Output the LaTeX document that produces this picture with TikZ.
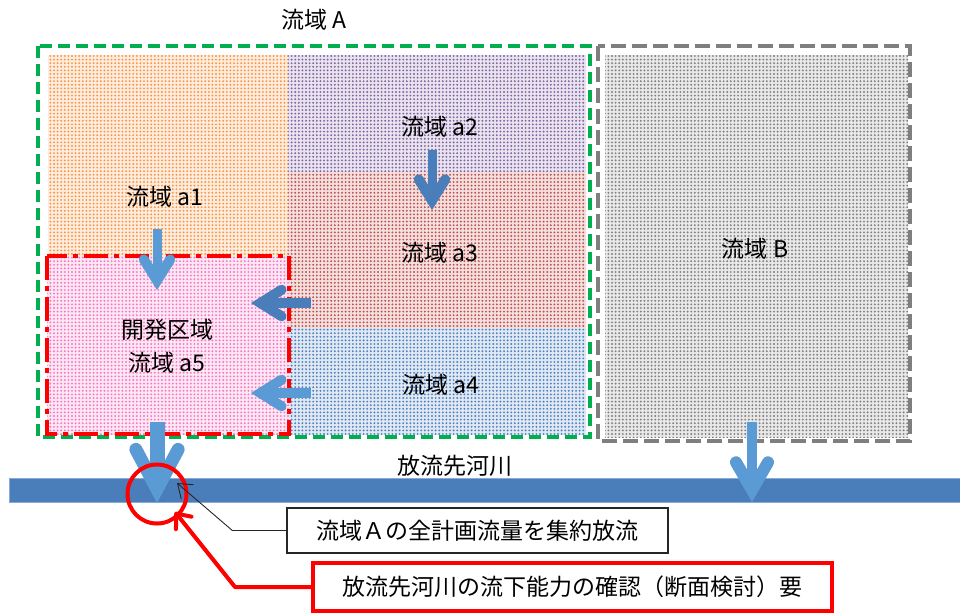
\documentclass[tikz,border=0pt]{standalone}
\usepackage{fontspec}
\setmainfont{Noto Sans CJK JP}
\usetikzlibrary{calc,patterns.meta,arrows.meta}
\definecolor{orgD}{RGB}{247,150,70}
\definecolor{purD}{RGB}{128,100,162}
\definecolor{redD}{RGB}{192,80,77}
\definecolor{bluD}{RGB}{79,129,189}
\definecolor{gryD}{RGB}{128,128,128}
\definecolor{pnkD}{RGB}{245,120,195}
\definecolor{grnL}{RGB}{0,176,80}
\definecolor{grayL}{RGB}{127,127,127}
\definecolor{arrD}{RGB}{74,126,187}
\definecolor{arrL}{RGB}{91,155,213}
\definecolor{river}{RGB}{74,126,187}
\newcommand\flowarrow[7]{%
  \coordinate (fa-p) at ($(#2)!{(#5)/2/sin(#7)}!(#1)$);
  \coordinate (fa-l) at ($(fa-p)!#6!#7:(#1)$);
  \coordinate (fa-r) at ($(fa-p)!#6!-#7:(#1)$);
  \draw[#3, line width=#4] (#1) -- (fa-p);
  \draw[#3, line width=#5, line cap=round, line join=miter] (fa-l) -- (fa-p) -- (fa-r);
}
\begin{document}
\begin{tikzpicture}[x=1pt,y=-1pt,
  font=\fontsize{23pt}{27pt}\selectfont,
  region/.style={preaction={fill=#1!18}, pattern={Dots[distance=3.6pt,radius=1.05pt]}, pattern color=#1},
  grnbox/.style={draw=grnL, line width=4.5pt, dash pattern=on 12pt off 6pt},
  grybox/.style={draw=grayL, line width=4.5pt, dash pattern=on 15pt off 6pt},
  redbox/.style={draw=red, line width=4pt, dash pattern=on 24pt off 6pt on 5pt off 6pt},
  lbl/.style={inner sep=1pt},
  note/.style={draw=black!85, line width=1.3pt, minimum width=381pt, minimum height=45pt, inner sep=0pt},
  rnote/.style={draw=red, line width=4pt, minimum width=519pt, minimum height=48pt, inner sep=0pt}
]
\useasboundingbox (0,0) rectangle (960,614);
% regions
\path[region=orgD] (48,55) rectangle (288,435);
\path[region=purD] (288,55) rectangle (586,172);
\path[region=redD] (288,172) rectangle (586,328);
\path[region=bluD] (288,328) rectangle (586,435);
\path[region=gryD] (605,55) rectangle (908,437);
\path[region=pnkD] (47,256) rectangle (289,434);
% borders
\draw[grnbox] (38,46) rectangle (590,437);
\draw[grybox] (598,46) rectangle (910,441);
\draw[redbox] (47,256) rectangle (289,434);
% labels
\node[lbl] (tA) at (314,20) {流域 A};
\node[lbl] (t1) at (165,197) {流域 a1};
\node[lbl] (t2) at (440,127) {流域 a2};
\node[lbl] (t3) at (440,253) {流域 a3};
\node[lbl] (t4) at (441,385) {流域 a4};
\node[lbl] (tB) at (755,249) {流域 B};
\node[lbl] (t5a) at (167,330) {開発区域};
\node[lbl] (t5b) at (167,363) {流域 a5};
% river
\path[fill=river, draw=river!65!white, line width=1pt] (9,478) rectangle (962,502);
\node[lbl] (rv) at (455,466) {放流先河川};
% flow arrows
\coordinate (s1) at (157,229); \coordinate (e1) at (157,290);
\coordinate (s2) at (432,150); \coordinate (e2) at (432,210);
\coordinate (s3) at (311,303); \coordinate (e3) at (251,303);
\coordinate (s4) at (311,393); \coordinate (e4) at (251,393);
\coordinate (s5) at (157,422); \coordinate (e5) at (157,503);
\coordinate (s6) at (752,422); \coordinate (e6) at (752,502);
\flowarrow{s1}{e1}{arrL}{9pt}{10pt}{25pt}{32}
\flowarrow{s2}{e2}{arrD}{9pt}{10pt}{25pt}{32}
\flowarrow{s3}{e3}{arrD}{10pt}{10pt}{25pt}{32}
\flowarrow{s4}{e4}{arrL}{10pt}{10pt}{25pt}{32}
\flowarrow{s5}{e5}{arrL}{15pt}{13pt}{45pt}{28}
\flowarrow{s6}{e6}{arrL}{10pt}{12pt}{32pt}{30}
% check circle
\node[draw=red, line width=4pt, circle, minimum size=59pt, inner sep=0pt] (chk) at (157,494) {};
% callouts
\node[note] (cb) at (477.5,530.5) {流域Ａの全計画流量を集約放流};
\node[rnote] (rb) at (572.5,587) {放流先河川の流下能力の確認（断面検討）要};
\coordinate (tipB) at (177,483);
\coordinate (tipR) at (175,512);
\draw[black!85, line width=0.9pt, -{Straight Barb[length=13pt,width=19pt]}] (cb.west) -- ++(-54,0) -- (tipB);
\draw[red, line width=4pt, line join=round, -{Straight Barb[length=12pt,width=20pt,round]}] (rb.west) -- ++(-76,0) -- (tipR);
\end{tikzpicture}
\end{document}
